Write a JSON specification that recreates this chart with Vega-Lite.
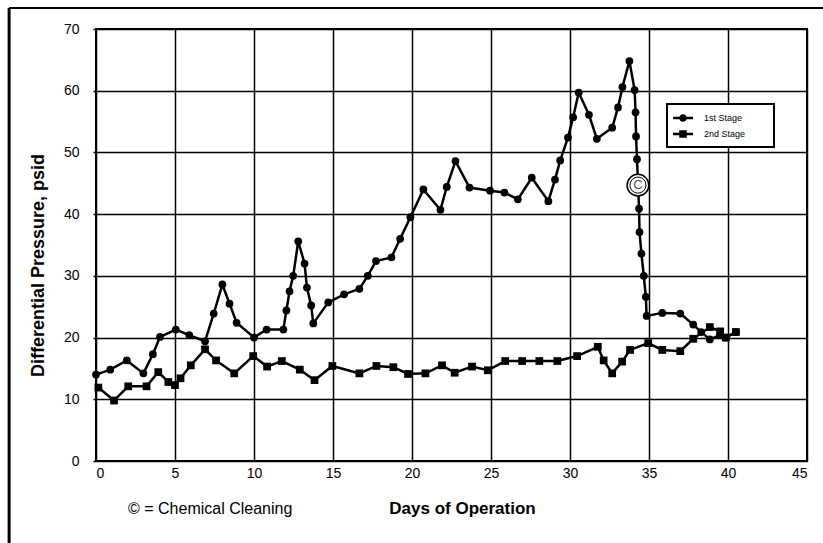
{
  "$schema": "https://vega.github.io/schema/vega-lite/v6.json",
  "width": 711,
  "height": 432,
  "autosize": {"type": "none"},
  "padding": {"left": 96, "top": 29, "right": 16, "bottom": 82},
  "background": "white",
  "config": {
    "font": "Liberation Sans",
    "view": {"stroke": "#000", "strokeWidth": 2},
    "legend": {"strokeWidth": 2},
    "axis": {
      "grid": true, "gridColor": "#000", "gridWidth": 1.5, "gridOpacity": 1,
      "domain": false, "labelColor": "#000", "labelFontSize": 14, "labelFont": "Liberation Sans",
      "titleColor": "#000", "titleFontWeight": "bold", "titleFont": "Liberation Sans"
    },
    "axisX": {"ticks": false, "labelPadding": 5},
    "axisY": {"ticks": true, "tickSize": 3, "tickColor": "#000", "tickWidth": 1.5, "labelPadding": 14}
  },
  "title": {
    "text": "© = Chemical Cleaning", "orient": "bottom", "anchor": "start", "frame": "group",
    "fontSize": 16, "fontWeight": "normal", "color": "#000", "font": "Liberation Sans",
    "dx": 32, "dy": -19, "offset": -26
  },
  "datasets": {
    "stages": [
      {"day": 0.0, "psid": 14.0, "series": "1st Stage"},
      {"day": 0.9, "psid": 14.8, "series": "1st Stage"},
      {"day": 1.95, "psid": 16.3, "series": "1st Stage"},
      {"day": 3.0, "psid": 14.2, "series": "1st Stage"},
      {"day": 3.6, "psid": 17.3, "series": "1st Stage"},
      {"day": 4.05, "psid": 20.1, "series": "1st Stage"},
      {"day": 5.05, "psid": 21.3, "series": "1st Stage"},
      {"day": 5.9, "psid": 20.4, "series": "1st Stage"},
      {"day": 6.9, "psid": 19.4, "series": "1st Stage"},
      {"day": 7.45, "psid": 23.9, "series": "1st Stage"},
      {"day": 8.0, "psid": 28.6, "series": "1st Stage"},
      {"day": 8.45, "psid": 25.5, "series": "1st Stage"},
      {"day": 8.9, "psid": 22.4, "series": "1st Stage"},
      {"day": 10.0, "psid": 20.0, "series": "1st Stage"},
      {"day": 10.8, "psid": 21.3, "series": "1st Stage"},
      {"day": 11.86, "psid": 21.3, "series": "1st Stage"},
      {"day": 12.05, "psid": 24.4, "series": "1st Stage"},
      {"day": 12.25, "psid": 27.5, "series": "1st Stage"},
      {"day": 12.48, "psid": 30.0, "series": "1st Stage"},
      {"day": 12.8, "psid": 35.6, "series": "1st Stage"},
      {"day": 13.2, "psid": 32.0, "series": "1st Stage"},
      {"day": 13.35, "psid": 28.1, "series": "1st Stage"},
      {"day": 13.62, "psid": 25.2, "series": "1st Stage"},
      {"day": 13.75, "psid": 22.3, "series": "1st Stage"},
      {"day": 14.7, "psid": 25.7, "series": "1st Stage"},
      {"day": 15.7, "psid": 27.0, "series": "1st Stage"},
      {"day": 16.67, "psid": 27.9, "series": "1st Stage"},
      {"day": 17.2, "psid": 30.0, "series": "1st Stage"},
      {"day": 17.72, "psid": 32.4, "series": "1st Stage"},
      {"day": 18.7, "psid": 33.0, "series": "1st Stage"},
      {"day": 19.25, "psid": 36.0, "series": "1st Stage"},
      {"day": 19.9, "psid": 39.5, "series": "1st Stage"},
      {"day": 20.72, "psid": 44.0, "series": "1st Stage"},
      {"day": 21.8, "psid": 40.7, "series": "1st Stage"},
      {"day": 22.2, "psid": 44.4, "series": "1st Stage"},
      {"day": 22.75, "psid": 48.6, "series": "1st Stage"},
      {"day": 23.64, "psid": 44.3, "series": "1st Stage"},
      {"day": 24.94, "psid": 43.8, "series": "1st Stage"},
      {"day": 25.85, "psid": 43.5, "series": "1st Stage"},
      {"day": 26.7, "psid": 42.4, "series": "1st Stage"},
      {"day": 27.58, "psid": 45.9, "series": "1st Stage"},
      {"day": 28.63, "psid": 42.1, "series": "1st Stage"},
      {"day": 29.05, "psid": 45.6, "series": "1st Stage"},
      {"day": 29.38, "psid": 48.7, "series": "1st Stage"},
      {"day": 29.87, "psid": 52.4, "series": "1st Stage"},
      {"day": 30.2, "psid": 55.7, "series": "1st Stage"},
      {"day": 30.55, "psid": 59.7, "series": "1st Stage"},
      {"day": 31.2, "psid": 56.1, "series": "1st Stage"},
      {"day": 31.7, "psid": 52.2, "series": "1st Stage"},
      {"day": 32.67, "psid": 54.0, "series": "1st Stage"},
      {"day": 33.04, "psid": 57.3, "series": "1st Stage"},
      {"day": 33.32, "psid": 60.6, "series": "1st Stage"},
      {"day": 33.76, "psid": 64.8, "series": "1st Stage"},
      {"day": 34.09, "psid": 60.1, "series": "1st Stage"},
      {"day": 34.15, "psid": 56.5, "series": "1st Stage"},
      {"day": 34.18, "psid": 52.6, "series": "1st Stage"},
      {"day": 34.24, "psid": 48.9, "series": "1st Stage"},
      {"day": 34.37, "psid": 40.9, "series": "1st Stage"},
      {"day": 34.4, "psid": 37.1, "series": "1st Stage"},
      {"day": 34.52, "psid": 33.6, "series": "1st Stage"},
      {"day": 34.67, "psid": 30.0, "series": "1st Stage"},
      {"day": 34.8, "psid": 26.6, "series": "1st Stage"},
      {"day": 34.85, "psid": 23.5, "series": "1st Stage"},
      {"day": 35.84, "psid": 24.0, "series": "1st Stage"},
      {"day": 36.98, "psid": 23.9, "series": "1st Stage"},
      {"day": 37.8, "psid": 22.1, "series": "1st Stage"},
      {"day": 38.3, "psid": 20.9, "series": "1st Stage"},
      {"day": 38.85, "psid": 19.7, "series": "1st Stage"},
      {"day": 39.5, "psid": 20.4, "series": "1st Stage"},
      {"day": 39.86, "psid": 20.0, "series": "1st Stage"},
      {"day": 40.5, "psid": 20.9, "series": "1st Stage"},
      {"day": 0.15, "psid": 11.9, "series": "2nd Stage"},
      {"day": 1.14, "psid": 9.8, "series": "2nd Stage"},
      {"day": 2.04, "psid": 12.1, "series": "2nd Stage"},
      {"day": 3.2, "psid": 12.1, "series": "2nd Stage"},
      {"day": 3.94, "psid": 14.4, "series": "2nd Stage"},
      {"day": 4.58, "psid": 12.8, "series": "2nd Stage"},
      {"day": 5.0, "psid": 12.3, "series": "2nd Stage"},
      {"day": 5.35, "psid": 13.4, "series": "2nd Stage"},
      {"day": 6.0, "psid": 15.5, "series": "2nd Stage"},
      {"day": 6.9, "psid": 18.1, "series": "2nd Stage"},
      {"day": 7.6, "psid": 16.3, "series": "2nd Stage"},
      {"day": 8.75, "psid": 14.2, "series": "2nd Stage"},
      {"day": 9.95, "psid": 17.0, "series": "2nd Stage"},
      {"day": 10.83, "psid": 15.3, "series": "2nd Stage"},
      {"day": 11.76, "psid": 16.2, "series": "2nd Stage"},
      {"day": 12.9, "psid": 14.8, "series": "2nd Stage"},
      {"day": 13.83, "psid": 13.1, "series": "2nd Stage"},
      {"day": 14.96, "psid": 15.4, "series": "2nd Stage"},
      {"day": 16.67, "psid": 14.2, "series": "2nd Stage"},
      {"day": 17.75, "psid": 15.4, "series": "2nd Stage"},
      {"day": 18.82, "psid": 15.2, "series": "2nd Stage"},
      {"day": 19.75, "psid": 14.1, "series": "2nd Stage"},
      {"day": 20.85, "psid": 14.2, "series": "2nd Stage"},
      {"day": 21.9, "psid": 15.5, "series": "2nd Stage"},
      {"day": 22.7, "psid": 14.3, "series": "2nd Stage"},
      {"day": 23.8, "psid": 15.3, "series": "2nd Stage"},
      {"day": 24.8, "psid": 14.7, "series": "2nd Stage"},
      {"day": 25.9, "psid": 16.2, "series": "2nd Stage"},
      {"day": 26.97, "psid": 16.2, "series": "2nd Stage"},
      {"day": 28.06, "psid": 16.2, "series": "2nd Stage"},
      {"day": 29.2, "psid": 16.2, "series": "2nd Stage"},
      {"day": 30.45, "psid": 17.0, "series": "2nd Stage"},
      {"day": 31.76, "psid": 18.5, "series": "2nd Stage"},
      {"day": 32.13, "psid": 16.3, "series": "2nd Stage"},
      {"day": 32.67, "psid": 14.2, "series": "2nd Stage"},
      {"day": 33.3, "psid": 16.1, "series": "2nd Stage"},
      {"day": 33.8, "psid": 18.0, "series": "2nd Stage"},
      {"day": 34.95, "psid": 19.1, "series": "2nd Stage"},
      {"day": 35.84, "psid": 18.0, "series": "2nd Stage"},
      {"day": 36.98, "psid": 17.8, "series": "2nd Stage"},
      {"day": 37.8, "psid": 19.8, "series": "2nd Stage"},
      {"day": 38.85, "psid": 21.7, "series": "2nd Stage"},
      {"day": 39.5, "psid": 21.0, "series": "2nd Stage"},
      {"day": 39.86, "psid": 20.0, "series": "2nd Stage"},
      {"day": 40.5, "psid": 20.9, "series": "2nd Stage"}
    ],
    "cleaning": [
      {"day": 34.3, "psid": 44.7, "label": "C"}
    ]
  },
  "resolve": {"scale": {"shape": "independent"}, "legend": {"shape": "independent"}},
  "layer": [
    {
      "data": {"name": "stages"},
      "mark": {"type": "line", "color": "#000", "strokeWidth": 2.5},
      "encoding": {
        "x": {"field": "day", "type": "quantitative", "scale": {"domain": [0, 45], "nice": false},
              "axis": {"values": [0, 5, 10, 15, 20, 25, 30, 35, 40, 45], "title": "Days of Operation",
                       "titleFontSize": 17, "titleX": 366, "titleY": 52, "titleBaseline": "alphabetic", "titleAlign": "center"}},
        "y": {"field": "psid", "type": "quantitative", "scale": {"domain": [0, 70], "nice": false},
              "axis": {"values": [0, 10, 20, 30, 40, 50, 60, 70], "title": "Differential Pressure, psid",
                       "titleFontSize": 18, "titleX": -58, "titleY": 236, "titleAngle": -90, "titleBaseline": "middle", "titleAlign": "center"}},
        "detail": {"field": "series", "type": "nominal"}
      }
    },
    {
      "data": {"name": "stages"},
      "mark": {"type": "point", "filled": true, "color": "#000", "size": 60, "opacity": 1},
      "encoding": {
        "x": {"field": "day", "type": "quantitative", "scale": {"domain": [0, 45], "nice": false}},
        "y": {"field": "psid", "type": "quantitative", "scale": {"domain": [0, 70], "nice": false}},
        "shape": {
          "field": "series", "type": "nominal",
          "scale": {"domain": ["1st Stage", "2nd Stage"], "range": ["circle", "square"]},
          "legend": null
        }
      }
    },
    {
      "data": {"name": "stages"},
      "transform": [{"filter": "false"}],
      "mark": {"type": "point", "filled": true, "color": "#000", "opacity": 1},
      "encoding": {
        "x": {"field": "day", "type": "quantitative", "scale": {"domain": [0, 45], "nice": false}},
        "y": {"field": "psid", "type": "quantitative", "scale": {"domain": [0, 70], "nice": false}},
        "shape": {
          "field": "series", "type": "nominal",
          "scale": {"domain": ["1st Stage", "2nd Stage"],
                    "range": ["M-1.33,-0.21H2V0.21H-1.33Z M0.96,0A0.63,0.63 0 1,1 -0.3,0A0.63,0.63 0 1,1 0.96,0Z",
                              "M-1.33,-0.21H2V0.21H-1.33Z M-0.3,-0.63H0.96V0.63H-0.3Z"]},
          "legend": {
            "title": "MM", "titleOrient": "right", "titleColor": "#fff", "titleFontSize": 9, "titlePadding": 6,
            "orient": "none", "legendX": 571, "legendY": 75,
            "padding": 8, "symbolSize": 144, "rowPadding": 5, "labelOffset": 17,
            "labelFontSize": 9, "labelColor": "#000", "labelFont": "Liberation Sans",
            "strokeColor": "#000", "fillColor": "#fff",
            "symbolFillColor": "#000", "symbolStrokeWidth": 0, "symbolOpacity": 1
          }
        }
      }
    },
    {
      "data": {"name": "cleaning"},
      "mark": {"type": "point", "shape": "circle", "filled": true, "fill": "#fff", "stroke": "#000", "strokeWidth": 1.5, "size": 470, "opacity": 1},
      "encoding": {
        "x": {"field": "day", "type": "quantitative", "scale": {"domain": [0, 45], "nice": false}},
        "y": {"field": "psid", "type": "quantitative", "scale": {"domain": [0, 70], "nice": false}}
      }
    },
    {
      "data": {"name": "cleaning"},
      "mark": {"type": "point", "shape": "circle", "filled": false, "stroke": "#000", "strokeWidth": 1, "size": 260, "opacity": 1},
      "encoding": {
        "x": {"field": "day", "type": "quantitative", "scale": {"domain": [0, 45], "nice": false}},
        "y": {"field": "psid", "type": "quantitative", "scale": {"domain": [0, 70], "nice": false}}
      }
    },
    {
      "data": {"name": "cleaning"},
      "mark": {"type": "text", "fontSize": 13, "color": "#555", "font": "Liberation Sans", "align": "center", "baseline": "middle"},
      "encoding": {
        "x": {"field": "day", "type": "quantitative", "scale": {"domain": [0, 45], "nice": false}},
        "y": {"field": "psid", "type": "quantitative", "scale": {"domain": [0, 70], "nice": false}},
        "text": {"field": "label", "type": "nominal"}
      }
    },
    {
      "data": {"values": [{}]},
      "mark": {"type": "rule", "color": "#000", "strokeWidth": 3, "clip": false},
      "encoding": {
        "x": {"datum": -5.5, "type": "quantitative", "scale": {"domain": [0, 45], "nice": false}},
        "y": {"datum": 73.4, "type": "quantitative", "scale": {"domain": [0, 70], "nice": false}},
        "y2": {"datum": -13.5}
      }
    },
    {
      "data": {"values": [{}]},
      "mark": {"type": "rule", "color": "#000", "strokeWidth": 2, "clip": false},
      "encoding": {
        "x": {"datum": -5.5, "type": "quantitative", "scale": {"domain": [0, 45], "nice": false}},
        "x2": {"datum": 46.2},
        "y": {"datum": 73.4, "type": "quantitative", "scale": {"domain": [0, 70], "nice": false}}
      }
    }
  ]
}
